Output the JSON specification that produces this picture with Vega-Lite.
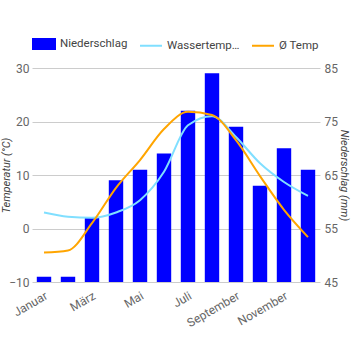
{
  "$schema": "https://vega.github.io/schema/vega-lite/v6.json",
  "width": 288,
  "height": 214,
  "autosize": "none",
  "padding": {"left": 32, "top": 68, "right": 33, "bottom": 68},
  "config": {
    "font": "Roboto",
    "view": {"stroke": null},
    "axis": {"labelFont": "Roboto", "titleFont": "Roboto", "labelColor": "#666666", "titleColor": "#444444", "labelFontSize": 12, "titleFontSize": 11, "titleFontWeight": "normal", "titleFontStyle": "italic"}
  },
  "data": {
    "values": [
      {"Monat": "Januar", "Niederschlag": 46, "Wassertemperatur": 3.0, "Ø Temp": -4.5},
      {"Monat": "Februar", "Niederschlag": 46, "Wassertemperatur": 2.2, "Ø Temp": -4.1},
      {"Monat": "März", "Niederschlag": 57, "Wassertemperatur": 2.0, "Ø Temp": 1.0},
      {"Monat": "April", "Niederschlag": 64, "Wassertemperatur": 3.0, "Ø Temp": 7.6},
      {"Monat": "Mai", "Niederschlag": 66, "Wassertemperatur": 5.3, "Ø Temp": 12.8},
      {"Monat": "Juni", "Niederschlag": 69, "Wassertemperatur": 10.6, "Ø Temp": 18.6},
      {"Monat": "Juli", "Niederschlag": 77, "Wassertemperatur": 19.3, "Ø Temp": 21.8},
      {"Monat": "August", "Niederschlag": 84, "Wassertemperatur": 21.0, "Ø Temp": 21.2},
      {"Monat": "September", "Niederschlag": 74, "Wassertemperatur": 17.1, "Ø Temp": 16.5},
      {"Monat": "Oktober", "Niederschlag": 63, "Wassertemperatur": 12.2, "Ø Temp": 9.8},
      {"Monat": "November", "Niederschlag": 70, "Wassertemperatur": 8.7, "Ø Temp": 3.5},
      {"Monat": "Dezember", "Niederschlag": 66, "Wassertemperatur": 6.1, "Ø Temp": -1.6}
    ]
  },
  "encoding": {
    "x": {
      "field": "Monat", "type": "nominal", "sort": null,
      "scale": {"paddingInner": 0.4, "paddingOuter": 0.2},
      "axis": {"title": null, "values": ["Januar", "März", "Mai", "Juli", "September", "November"], "labelAngle": -30, "ticks": false, "domain": false, "labelPadding": 8, "labelFontSize": 12}
    }
  },
  "layer": [
    {
      "transform": [{"fold": ["Niederschlag"], "as": ["Serie", "mm"]}],
      "mark": {"type": "bar"},
      "encoding": {
        "y": {"field": "mm", "type": "quantitative", "scale": {"domain": [45, 85], "zero": false, "nice": false},
          "axis": {"orient": "right", "title": "Niederschlag (mm)", "values": [45, 55, 65, 75, 85], "grid": false, "ticks": false, "domain": false, "labelPadding": 4, "titlePadding": 1}},
        "y2": {"datum": 45},
        "color": {"field": "Serie", "type": "nominal"}
      }
    },
    {
      "transform": [{"fold": ["Wassertemperatur", "Ø Temp"], "as": ["Serie", "Temp"]}],
      "mark": {"type": "line", "interpolate": "monotone", "strokeWidth": 2},
      "encoding": {
        "y": {"field": "Temp", "type": "quantitative", "scale": {"domain": [-10, 30], "nice": false},
          "axis": {"orient": "left", "title": "Temperatur (°C)", "values": [-10, 0, 10, 20, 30], "grid": true, "gridColor": "#cccccc", "ticks": false, "domain": false, "labelPadding": 3, "titlePadding": -3}},
        "color": {
          "field": "Serie", "type": "nominal",
          "scale": {"domain": ["Niederschlag", "Wassertemperatur", "Ø Temp"], "range": ["#0000ff", "#80dfff", "#ffa500"]},
          "legend": {
            "title": null, "orient": "none", "direction": "horizontal", "legendX": 0, "legendY": -36,
            "labelFont": "Roboto", "labelFontSize": 11.5, "labelColor": "#444444", "labelLimit": 76, "labelOffset": 4, "columnPadding": 8,
            "symbolSize": 484,
            "encode": {
              "symbols": {
                "update": {
                  "shape": {"signal": "datum.value == 'Niederschlag' ? 'M-1,-0.45H1V0.45H-1Z' : 'M-1,0H1'"},
                  "fill": {"signal": "datum.value == 'Niederschlag' ? '#0000ff' : 'transparent'"},
                  "stroke": {"signal": "datum.value == 'Niederschlag' ? 'transparent' : (datum.value == 'Wassertemperatur' ? '#80dfff' : '#ffa500')"},
                  "strokeWidth": {"value": 2},
                  "opacity": {"value": 1}
                }
              }
            }
          }
        }
      }
    }
  ],
  "resolve": {"scale": {"y": "independent"}}
}
